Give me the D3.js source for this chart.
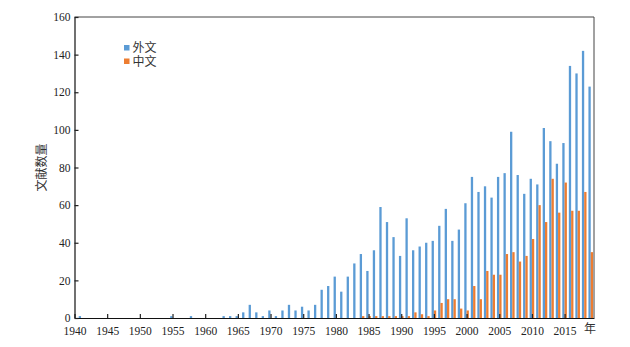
<!DOCTYPE html>
<html>
<head>
<meta charset="utf-8">
<script src="https://cdn.jsdelivr.net/npm/d3@7/dist/d3.min.js"></script>
<style>
  html, body { margin: 0; padding: 0; background: #fff; }
  svg { display: block; }
  .tick text { font-family: "Liberation Serif", "Times New Roman", serif; font-size: 11.5px; fill: #222; }
  .cjk { font-family: "Liberation Serif", "Noto Sans CJK SC", serif; font-size: 12px; fill: #333; }
</style>
</head>
<body>
<svg id="chart" width="630" height="347"></svg>
<script>
// Publications per year, foreign-language vs Chinese-language
const years = d3.range(1940, 2020);
const foreign = [
  0, 1, 0, 0, 0, 0, 0, 0, 0, 0,      // 1940-1949
  0, 0, 0, 0, 0, 1, 0, 0, 1, 0,      // 1950-1959
  0, 0, 0, 1, 1, 1, 3, 7, 3, 1,      // 1960-1969
  4, 1, 4, 7, 4, 6, 4, 7, 15, 17,    // 1970-1979
  22, 14, 22, 29, 34, 25, 36, 59, 51, 43, // 1980-1989
  33, 53, 36, 38, 40, 41, 49, 58, 41, 47, // 1990-1999
  61, 75, 67, 70, 64, 75, 77, 99, 76, 66, // 2000-2009
  74, 71, 101, 94, 82, 93, 134, 130, 142, 123 // 2010-2019
];
const chinese = [
  0, 0, 0, 0, 0, 0, 0, 0, 0, 0,
  0, 0, 0, 0, 0, 0, 0, 0, 0, 0,
  0, 0, 0, 0, 0, 0, 0, 0, 0, 0,
  0, 0, 0, 0, 0, 0, 0, 0, 0, 0,
  0, 0, 0, 0, 1, 1, 1, 1, 1, 1,
  1, 1, 3, 2, 1, 4, 8, 10, 10, 5,
  4, 17, 10, 25, 23, 23, 34, 35, 30, 33,
  42, 60, 51, 74, 56, 72, 57, 57, 67, 35
];
const xTicks = [1940, 1945, 1950, 1955, 1960, 1965, 1970, 1975, 1980, 1985, 1990, 1995, 2000, 2005, 2010, 2015];
const yTicks = [0, 20, 40, 60, 80, 100, 120, 140, 160];
const seriesNames = ["外文", "中文"];
const colors = ["#5B9BD5", "#ED7D31"];

const svg = d3.select("#chart");
const mLeft = 74.5, mRight = 594, mTop = 17, mBottom = 318;

const x = d3.scaleLinear().domain([1940, 2019.5]).range([mLeft, mRight]);
const y = d3.scaleLinear().domain([0, 160]).range([mBottom, mTop]);
const barW = 2.3;

// frame (top and right)
svg.append("path")
  .attr("d", `M${mLeft},${mTop}H${mRight}V${mBottom}`)
  .attr("fill", "none").attr("stroke", "#444").attr("stroke-width", 1);

// bars
const rows = years.map((yr, i) => ({ yr, f: foreign[i], c: chinese[i] }));
svg.append("g").selectAll("rect").data(rows.filter(d => d.f > 0)).join("rect")
  .attr("x", d => x(d.yr) - barW).attr("width", barW)
  .attr("y", d => y(d.f)).attr("height", d => y(0) - y(d.f))
  .attr("fill", colors[0]);
svg.append("g").selectAll("rect").data(rows.filter(d => d.c > 0)).join("rect")
  .attr("x", d => x(d.yr)).attr("width", barW)
  .attr("y", d => y(d.c)).attr("height", d => y(0) - y(d.c))
  .attr("fill", colors[1]);

// axes with inward ticks
const xAxis = svg.append("g").attr("transform", `translate(0,${mBottom})`)
  .call(d3.axisBottom(x).tickValues(xTicks).tickFormat(d3.format("d")).tickSizeInner(-4).tickSizeOuter(0).tickPadding(9));
const yAxis = svg.append("g").attr("transform", `translate(${mLeft},0)`)
  .call(d3.axisLeft(y).tickValues(yTicks).tickSizeInner(-4).tickSizeOuter(0).tickPadding(4));
[xAxis, yAxis].forEach(g => {
  g.select(".domain").attr("stroke", "#111").attr("stroke-width", 1.2);
  g.selectAll(".tick line").attr("stroke", "#222").attr("stroke-width", 1.2);
});

// axis titles
svg.append("text").attr("class", "cjk")
  .attr("x", mRight - 4).attr("y", mBottom + 15)
  .attr("text-anchor", "middle")
  .text("年");
svg.append("text").attr("class", "cjk")
  .attr("transform", `translate(46,${(mTop + mBottom) / 2}) rotate(-90)`)
  .attr("text-anchor", "middle")
  .text("文献数量");

// legend
const legend = svg.append("g").attr("transform", "translate(124,40)");
legend.selectAll("rect").data(seriesNames).join("rect")
  .attr("x", 0).attr("y", (d, i) => 5 + i * 13.5)
  .attr("width", 5.5).attr("height", 5.5)
  .attr("fill", (d, i) => colors[i]);
legend.selectAll("text").data(seriesNames).join("text").attr("class", "cjk")
  .attr("x", 8.5).attr("y", (d, i) => 12 + i * 13.5)
  .text(d => d);
</script>
</body>
</html>
